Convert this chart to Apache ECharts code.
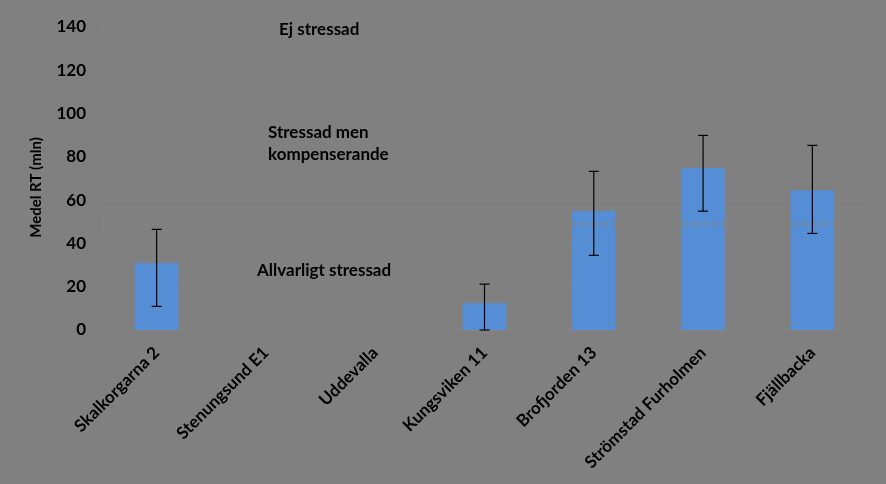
<!DOCTYPE html>
<html><head><meta charset="utf-8">
<script src="https://cdn.jsdelivr.net/npm/echarts@6/dist/echarts.min.js"></script>
<style>html,body{margin:0;padding:0;background:#808080}#c{width:886px;height:484px}</style>
</head><body><div id="c"></div>
<script>
const categories = ['Skalkorgarna 2','Stenungsund E1','Uddevalla','Kungsviken 11','Brofjorden 13','Strömstad Furholmen','Fjällbacka'];
const meanValues = [31, null, null, 12.5, 55, 74.8, 64.6];
const errLow = [10.9, null, null, 0, 34.5, 54.9, 44.6];
const errHigh = [46.5, null, null, 21.2, 73.3, 89.9, 85.3];
const thresholdValue = 49;
const yTicks = [0, 20, 40, 60, 80, 100, 120, 140];

const font = 'Lato, "Open Sans", sans-serif';
const chart = echarts.init(document.getElementById('c'));
const errData = categories.map((c, i) => [i, errLow[i], errHigh[i]]).filter(d => d[1] != null);
chart.setOption({
  backgroundColor: '#808080',
  animation: false,
  grid: {left: 102, right: 19, top: 27, bottom: 154, containLabel: false},
  xAxis: {
    type: 'category', data: categories,
    axisLine: {show: true, lineStyle: {color: '#858585'}},
    axisTick: {show: false},
    axisLabel: {rotate: 45, interval: 0, color: '#000', fontFamily: font, fontWeight: 'bold', fontSize: 17, margin: 20}
  },
  yAxis: {
    type: 'value', min: yTicks[0], max: yTicks[yTicks.length-1], interval: 20,
    name: 'Medel RT (mln)', nameLocation: 'middle', nameGap: 58,
    nameTextStyle: {color: '#000', fontFamily: font, fontSize: 15, fontWeight: 'bold', padding: [0, 18, 0, 0]},
    axisLine: {show: true, lineStyle: {color: '#838383'}},
    axisTick: {show: false},
    splitLine: {lineStyle: {color: '#828282'}},
    axisLabel: {color: '#000', fontFamily: font, fontWeight: 'bold', fontSize: 17, margin: 16}
  },
  series: [
    {type: 'bar', data: meanValues, barWidth: '40%', itemStyle: {color: '#558ed5'},
     markLine: {silent: true, symbol: 'none', label: {show: false},
       lineStyle: {color: '#838383', opacity: 1, type: [6, 4], width: 2}, data: [{yAxis: thresholdValue}]}},
    {type: 'custom', data: errData, z: 5,
     renderItem: function(params, api) {
       const x = api.value(0);
       const lo = api.coord([x, api.value(1)]);
       const hi = api.coord([x, api.value(2)]);
       const w = 5;
       const st = {stroke: '#000', lineWidth: 1.2};
       return {type: 'group', children: [
         {type: 'line', shape: {x1: lo[0], y1: lo[1], x2: hi[0], y2: hi[1]}, style: st},
         {type: 'line', shape: {x1: hi[0]-w, y1: hi[1], x2: hi[0]+w, y2: hi[1]}, style: st},
         {type: 'line', shape: {x1: lo[0]-w, y1: lo[1], x2: lo[0]+w, y2: lo[1]}, style: st}
       ]};
     }}
  ],
  graphic: [
    {type: 'text', z: 100, left: 279, top: 21, style: {text: 'Ej stressad', fill: '#000', font: 'bold 17px ' + font}},
    {type: 'text', z: 100, left: 268, top: 122, style: {text: 'Stressad men\nkompenserande', fill: '#000', font: 'bold 17px ' + font, lineHeight: 22}},
    {type: 'text', z: 100, left: 257, top: 262, style: {text: 'Allvarligt stressad', fill: '#000', font: 'bold 17px ' + font}}
  ]
});
</script></body></html>
